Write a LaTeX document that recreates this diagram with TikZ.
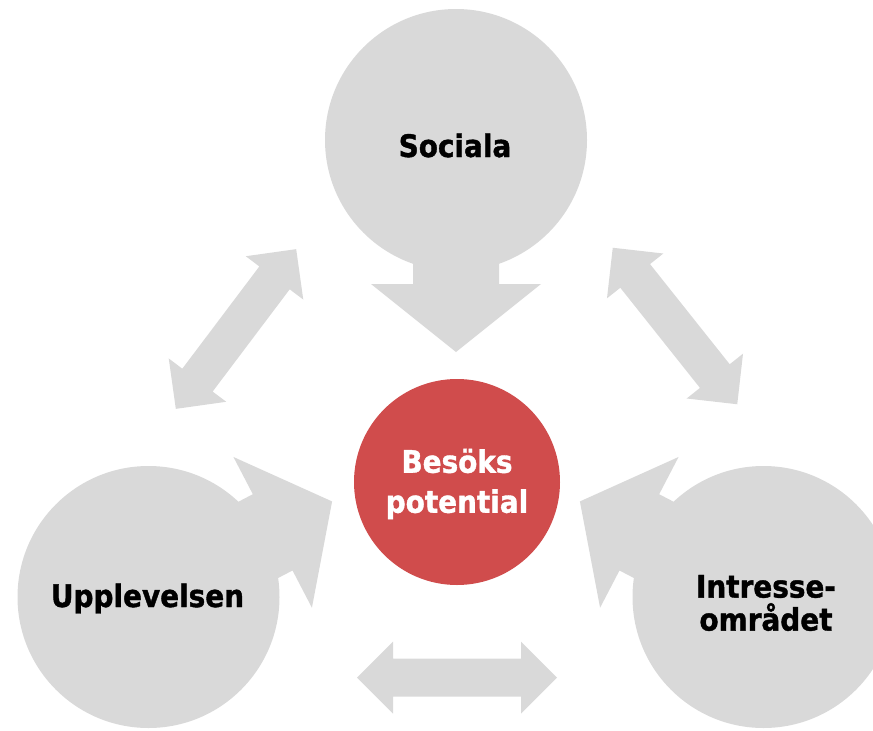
\documentclass[tikz,border=0pt]{standalone}
\usepackage{fontspec}
\newfontfamily\lblfont{DejaVu Sans}[FakeStretch=0.9, BoldFeatures={FakeBold=1.2}]
\definecolor{shapegray}{RGB}{217,217,217}
\definecolor{corered}{RGB}{208,76,76}
\tikzset{
  disc/.style={circle, fill=shapegray, minimum size=262pt, inner sep=0pt},
  coredisc/.style={circle, fill=corered, minimum size=206pt, inner sep=0pt},
  lbl/.style={font=\lblfont\bfseries\fontsize{31}{33}\selectfont, align=center, text=black, inner sep=0pt},
  corelbl/.style={font=\lblfont\bfseries\fontsize{31}{40}\selectfont, align=center, text=white, inner sep=0pt},
  pics/inarrow/.style n args={2}{code={
    \fill[shapegray] (0,-43) -- (#1,-43) -- (#1,-85) -- (#2,0) -- (#1,85) -- (#1,43) -- (0,43) -- cycle;}},
  pics/dblarrow/.style={code={
    \fill[shapegray] (-100,0) -- (-64,-36) -- (-64,-19) -- (64,-19) -- (64,-36) -- (100,0)
      -- (64,36) -- (64,19) -- (-64,19) -- (-64,36) -- cycle;}}
}
\begin{document}
\begin{tikzpicture}[x=1pt,y=-1pt]
\useasboundingbox (0,0) rectangle (873,731);
\clip (0,0) rectangle (873,731);
% outer circles
\node[disc] (soc) at (456,140) {};
\node[disc] (upp) at (148.5,597) {};
\node[disc] (int) at (763.5,597) {};
% arrows from outer circles towards centre
\pic[rotate=-90] at (soc.center) {inarrow={144}{212}};
\pic[rotate=27.5] at (upp.center) {inarrow={140}{207}};
\pic[rotate=152.5] at (int.center) {inarrow={140}{207}};
% double arrows between outer circles
\coordinate (dl) at (236,329);
\coordinate (dr) at (675,326);
\coordinate (db) at (457,677.5);
\pic[rotate=53] at (dl) {dblarrow};
\pic[rotate=-51.5] at (dr) {dblarrow};
\pic at (db) {dblarrow};
% centre circle
\node[coredisc] (core) at (457,482) {};
% labels
\node[lbl, anchor=base] (socl) at (455,157) {Sociala};
\node[lbl, anchor=base] (uppl) at (147.5,607) {Upplevelsen};
\node[lbl] (intl) at (766,603) {Intresse-\\området};
\node[corelbl] (corel) at (457,484) {Besöks\\potential};
\end{tikzpicture}
\end{document}
